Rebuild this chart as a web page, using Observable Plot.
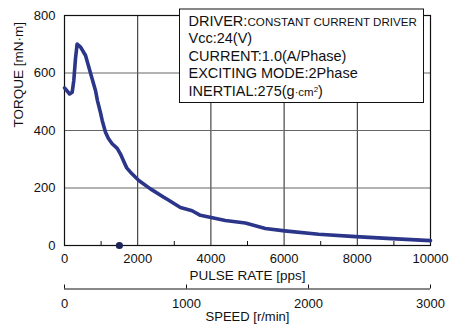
<!DOCTYPE html>
<html>
<head>
<meta charset="utf-8">
<script src="https://cdn.jsdelivr.net/npm/d3@7"></script>
<script src="https://cdn.jsdelivr.net/npm/@observablehq/plot@0.6"></script>
<style>
  html, body { margin: 0; padding: 0; background: #fff; }
  #chart svg { display: block; }
</style>
</head>
<body>
<div id="chart"></div>
<script>
// ---- data ----
const pulseRate = [0, 140, 210, 254, 300, 345, 440, 575, 710, 850, 900, 983, 1030, 1120, 1200, 1302, 1440, 1530, 1620, 1700, 1802, 2030, 2348, 2712, 2804, 3167, 3486, 3713, 4395, 4941, 5487, 6014, 6943, 7957, 8940, 10000];
const torque    = [548, 527, 533, 574, 650, 701, 690, 661, 600, 537, 504, 462, 435, 394, 372, 354, 338, 318, 292, 270, 255, 226, 197, 168, 161, 132, 121, 105, 87, 78, 59, 51, 39, 31, 24, 17];
const markerPulse = [1500];
const markerTorque = [0];
const xTicks = [0, 2000, 4000, 6000, 8000, 10000];
const xMinorTicks = [1000, 3000, 5000, 7000, 9000];
const yTicks = [0, 200, 400, 600, 800];
const speedTicks = [0, 1000, 2000, 3000];
const speedMax = 3000;
const pulseMax = 10000;
const torqueMax = 800;
const legendHead = "DRIVER:";
const legendHeadValue = "CONSTANT CURRENT DRIVER";
const legendLines = ["Vcc:24(V)", "CURRENT:1.0(A/Phase)", "EXCITING MODE:2Phase", "INERTIAL:275(g\u00b7cm\u00b2)"];
const xLabel = "PULSE RATE [pps]";
const speedLabel = "SPEED [r/min]";
const yLabel = "TORQUE [mN\u00b7m]";

const curve = pulseRate.map((p, i) => ({p, t: torque[i]}));
const marker = markerPulse.map((p, i) => ({p, t: markerTorque[i]}));
const toPulse = s => s * pulseMax / speedMax;

const navy = "#2b3589";
const font = "'Liberation Sans', Arial, Helvetica, sans-serif";

const chart = Plot.plot({
  width: 449,
  height: 324,
  marginLeft: 64,
  marginRight: 19,
  marginTop: 15,
  marginBottom: 79,
  style: {fontFamily: font, fontSize: "13px", color: "#111", background: "#fff", overflow: "visible"},
  x: {domain: [0, pulseMax]},
  y: {domain: [0, torqueMax]},
  marks: [
    Plot.gridX(xTicks, {stroke: "#222", strokeOpacity: 1, strokeWidth: 1}),
    Plot.gridY(yTicks, {stroke: "#666", strokeOpacity: 1, strokeWidth: 1}),
    Plot.ruleX(xMinorTicks, {stroke: "#111", insetTop: 226}),
    Plot.frame({stroke: "#111", strokeWidth: 1.2}),
    Plot.axisX(xTicks, {tickSize: 0, tickPadding: 8, fontSize: 13, label: null, tickFormat: d => String(d)}),
    Plot.axisY(yTicks, {tickSize: 0, tickPadding: 9, fontSize: 13, label: null, tickFormat: d => String(d)}),
    Plot.text([xLabel], {frameAnchor: "bottom", dy: 30, fontSize: 13.5, text: d => d, lineAnchor: "middle"}),
    // speed axis
    Plot.ruleY([0], {stroke: "#111", dy: 43.5}),
    Plot.ruleX(speedTicks, {x: toPulse, stroke: "#111", insetTop: 226, dy: 43.5}),
    Plot.text(speedTicks, {x: toPulse, frameAnchor: "bottom", dy: 58, fontSize: 13, text: d => String(d), lineAnchor: "middle"}),
    Plot.text([speedLabel], {frameAnchor: "bottom", dy: 71.5, fontSize: 13, text: d => d, lineAnchor: "middle"}),
    // y label
    Plot.text([yLabel], {frameAnchor: "left", dx: -46, dy: -3, rotate: -90, fontSize: 13.5, text: d => d, lineAnchor: "middle"}),
    // curve
    Plot.line(curve, {x: "p", y: "t", stroke: navy, strokeWidth: 3.6, strokeLinejoin: "round", strokeLinecap: "round"}),
    Plot.dot(marker, {x: "p", y: "t", r: 3.6, fill: "#1d2457", stroke: "none"}),
    // legend box
    Plot.frame({fill: "#fff", stroke: "#111", strokeWidth: 1, insetLeft: 115, insetRight: 7, insetTop: -6.5, insetBottom: 143}),
    Plot.text([legendHead], {frameAnchor: "top-left", dx: 124, dy: 6, fontSize: 14.5, text: d => d, lineAnchor: "middle", textAnchor: "start"}),
    Plot.text([legendHeadValue], {frameAnchor: "top-left", dx: 183, dy: 6.5, fontSize: 11.6, text: d => d, lineAnchor: "middle", textAnchor: "start"}),
    ...legendLines.map((line, i) => Plot.text([line], {frameAnchor: "top-left", dx: 124, dy: 23 + i * 17.5, fontSize: 14.5, text: d => d, lineAnchor: "middle", textAnchor: "start"}))
  ]
});
document.getElementById("chart").append(chart);

// style the unit part of the inertia line (smaller "cm" and superscript 2), as in the original
d3.select(chart).selectAll("text").each(function() {
  const el = d3.select(this);
  if (this.textContent === legendLines[3]) {
    const txt = this.textContent;
    const k = txt.indexOf("\u00b7");
    const head = txt.slice(0, k);
    el.text(null);
    el.append("tspan").text(head);
    el.append("tspan").attr("font-size", 11).text("\u00b7");
    el.append("tspan").attr("font-size", 11.5).text("cm");
    el.append("tspan").attr("font-size", 8).attr("dy", -3.6).text("2");
    el.append("tspan").attr("dy", 3.6).text(")");
  }
});
</script>
</body>
</html>
